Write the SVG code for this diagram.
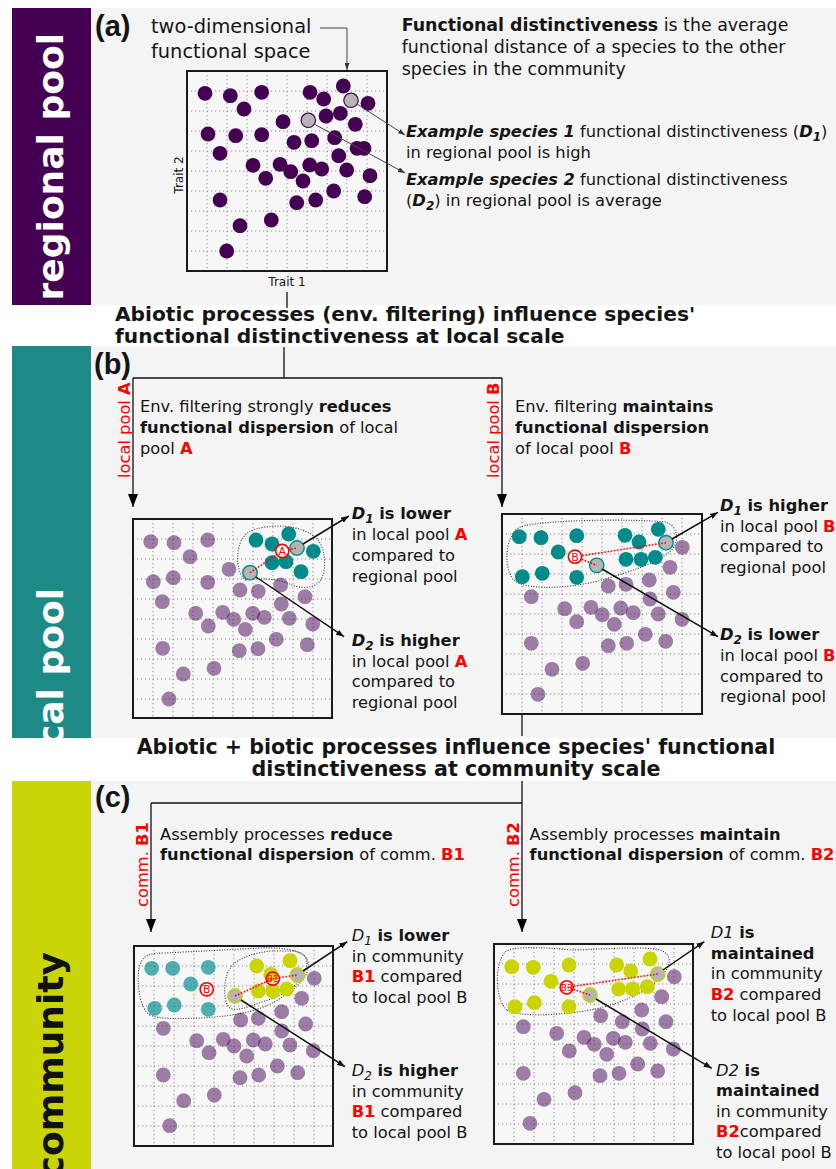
<svg xmlns="http://www.w3.org/2000/svg" width="836" height="1169" viewBox="0 0 836 1169">
<style>
text{font-family:"DejaVu Sans",sans-serif;fill:#151515}
.t16{font-size:16.3px}
.b{font-weight:bold}
.bi{font-weight:bold;font-style:italic}
.i{font-style:italic}
.r{fill:#f00}
.lbl{font-family:"Liberation Sans",Arial,sans-serif;font-weight:bold;font-size:29px}
.side{font-weight:bold;font-size:36px}
.title{font-weight:bold;font-size:20.2px}
.panel{fill:#f4f4f4}
.plotbg{fill:#f7f7f7}
.box{fill:none;stroke:#1a1a1a;stroke-width:2}
.grid{fill:none;stroke:#8a8a8a;stroke-width:1;stroke-dasharray:1.2 2.8}
.pa{fill:#440154}
.pt{fill:#440154;fill-opacity:.5}
.tl{fill:#008b8b}
.tlt{fill:#008b8b;fill-opacity:.68}
.yl{fill:#c9d400}
.spa{fill:#b5b5b5;stroke:#440154;stroke-width:1.2}
.spt{fill:#b5b5b5;stroke:#008b8b;stroke-width:1.4}
.spy{fill:#b5b5b5;stroke:#c9d400;stroke-width:1.4}
.hull{fill:none;stroke:#333;stroke-width:1.1;stroke-dasharray:1 1.6}
.rd{fill:none;stroke:#f00;stroke-width:1.6;stroke-dasharray:1.6 1.6}
.rc{stroke:#f00;stroke-width:1.6}
.rl{font-size:11px;fill:#f00;text-anchor:middle}
.con{fill:none;stroke:#111;stroke-width:1.3}
.sarr{fill:none;stroke:#111;stroke-width:1.5;marker-end:url(#as)}
.garr{fill:none;stroke:#444;stroke-width:1;marker-end:url(#ag)}
</style>
<defs>
<marker id="ah" viewBox="0 0 13 10" refX="13" refY="5" markerWidth="13" markerHeight="10" markerUnits="userSpaceOnUse" orient="auto"><path d="M0,0 L13,5 L0,10 z" fill="#000"/></marker>
<marker id="as" viewBox="0 0 8 6" refX="8" refY="3" markerWidth="8" markerHeight="6" markerUnits="userSpaceOnUse" orient="auto"><path d="M0,0 L8,3 L0,6 z" fill="#111"/></marker>
<marker id="ag" viewBox="0 0 7 5" refX="7" refY="2.5" markerWidth="7" markerHeight="5" markerUnits="userSpaceOnUse" orient="auto"><path d="M0,0 L7,2.5 L0,5 z" fill="#333"/></marker>
<g id="grid"><path class="grid" d="M20,0V200M40,0V200M60,0V200M80,0V200M100,0V200M120,0V200M140,0V200M160,0V200M180,0V200M0,20H200M0,40H200M0,60H200M0,80H200M0,100H200M0,120H200M0,140H200M0,160H200M0,180H200"/></g>
</defs>
<rect width="836" height="1169" fill="#fff"/>

<g id="panels">
<rect class="panel" x="91" y="8" width="745" height="297"/>
<rect class="panel" x="91" y="346" width="745" height="392"/>
<rect class="panel" x="91" y="781" width="745" height="388"/>
</g>

<g id="sidebar-regional"><rect x="12" y="8" width="79" height="297" fill="#440154"/>
<text class="side" transform="translate(63,33) rotate(-90)" text-anchor="end" style="fill:#fff">regional pool</text></g>
<g id="sidebar-local"><rect x="12" y="346" width="79" height="392" fill="#1e8a85"/>
<text class="side" transform="translate(63,588) rotate(-90)" text-anchor="end" style="fill:#fff">local pool</text></g>
<g id="sidebar-community"><rect x="12" y="781" width="79" height="388" fill="#cad507"/>
<text class="side" transform="translate(63,952) rotate(-90)" text-anchor="end" style="fill:#111">community</text></g>

<g id="labels">
<text class="lbl" x="95" y="36">(a)</text>
<text class="lbl" x="94" y="374">(b)</text>
<text class="lbl" x="95" y="807">(c)</text>
</g>

<g id="connectors">
<path class="garr" d="M320,28 H347 V70"/>
<path class="con" d="M287,292 V308"/>
<path class="con" d="M284,347 V378 M133,378 H502"/>
<path class="con" d="M133,378 V507" marker-end="url(#ah)"/>
<path class="con" d="M502,378 V507" marker-end="url(#ah)"/>
<path class="con" d="M522,714 V736"/>
<path class="con" d="M522,781 V803 M151,803 H522"/>
<path class="con" d="M151,803 V932" marker-end="url(#ah)"/>
<path class="con" d="M522,803 V932" marker-end="url(#ah)"/>
</g>

<g id="a-note">
<text x="151" y="33" style="font-size:19.4px">two-dimensional</text>
<text x="151" y="58" style="font-size:19.4px">functional space</text>
</g>

<g id="a-definition" style="font-size:17.4px">
<text x="401.7" y="30.7"><tspan class="b">Functional distinctiveness</tspan> is the average</text>
<text x="401.7" y="53">functional distance of a species to the other</text>
<text x="401.7" y="75">species in the community</text>
</g>

<g id="plot-a">
<rect class="plotbg" x="187" y="71" width="200" height="200"/>
<use href="#grid" x="187" y="71"/>
<g class="pa">
<circle cx="205" cy="93.3" r="7.4"/><circle cx="230.3" cy="95.7" r="7.4"/><circle cx="261.7" cy="92.3" r="7.4"/><circle cx="310" cy="92.3" r="7.4"/><circle cx="343.3" cy="86" r="7.4"/><circle cx="323.7" cy="99" r="7.4"/><circle cx="368" cy="103.3" r="7.4"/><circle cx="244" cy="109" r="7.4"/><circle cx="283" cy="121.7" r="7.4"/><circle cx="326" cy="116" r="7.4"/><circle cx="340.3" cy="113.3" r="7.4"/><circle cx="355.3" cy="124.3" r="7.4"/><circle cx="208" cy="134" r="7.4"/><circle cx="235.7" cy="135.7" r="7.4"/><circle cx="261.7" cy="134.7" r="7.4"/><circle cx="294" cy="142.3" r="7.4"/><circle cx="311.7" cy="140.7" r="7.4"/><circle cx="334.7" cy="137.7" r="7.4"/><circle cx="220" cy="153.3" r="7.4"/><circle cx="357" cy="148.3" r="7.4"/><circle cx="364" cy="148.3" r="7.4"/><circle cx="338.7" cy="155.7" r="7.4"/><circle cx="253" cy="165.3" r="7.4"/><circle cx="280" cy="164.3" r="7.4"/><circle cx="290.7" cy="171.7" r="7.4"/><circle cx="309.7" cy="165" r="7.4"/><circle cx="321.7" cy="169" r="7.4"/><circle cx="346.7" cy="170" r="7.4"/><circle cx="265.7" cy="178.3" r="7.4"/><circle cx="303" cy="181" r="7.4"/><circle cx="370" cy="175.7" r="7.4"/><circle cx="220" cy="200" r="7.4"/><circle cx="333.7" cy="191" r="7.4"/><circle cx="296.7" cy="202.7" r="7.4"/><circle cx="315.7" cy="200" r="7.4"/><circle cx="364.7" cy="196.7" r="7.4"/><circle cx="271.3" cy="220" r="7.4"/><circle cx="240" cy="225.7" r="7.4"/><circle cx="226.7" cy="251" r="7.4"/>
</g>
<circle class="spa" cx="351" cy="100.3" r="7.2"/>
<circle class="spa" cx="308.3" cy="120.3" r="7.2"/>
<rect class="box" x="187" y="71" width="200" height="200"/>
<text x="287" y="286" text-anchor="middle" style="font-size:12px">Trait 1</text>
<text transform="translate(183,175) rotate(-90)" text-anchor="middle" style="font-size:12px">Trait 2</text>
<path class="garr" d="M357,104 L405,135"/>
<path class="garr" d="M314,124 L405,173"/>
</g>

<g id="a-examples" class="t16">
<text x="406" y="137"><tspan class="bi">Example species 1</tspan> functional distinctiveness (<tspan class="bi">D</tspan><tspan class="bi" font-size="12" dy="4">1</tspan><tspan dy="-4">)</tspan></text>
<text x="406" y="158">in regional pool is high</text>
<text x="406" y="185"><tspan class="bi">Example species 2</tspan> functional distinctiveness</text>
<text x="406" y="206">(<tspan class="bi">D</tspan><tspan class="bi" font-size="12" dy="4">2</tspan><tspan dy="-4">) in regional pool is average</tspan></text>
</g>

<g id="title-b" class="title">
<text x="115" y="321">Abiotic processes (env. filtering) influence species'</text>
<text x="115" y="343">functional distinctiveness at local scale</text>
</g>

<g id="b-left-intro" class="t16">
<text transform="translate(130,478) rotate(-90)" class="r">local pool <tspan class="b">A</tspan></text>
<text x="140" y="411.5">Env. filtering strongly <tspan class="b">reduces</tspan></text>
<text x="140" y="432.5"><tspan class="b">functional dispersion</tspan> of local</text>
<text x="140" y="453.5">pool <tspan class="b r">A</tspan></text>
</g>

<g id="b-right-intro" class="t16">
<text transform="translate(499,478) rotate(-90)" class="r">local pool <tspan class="b">B</tspan></text>
<text x="515" y="411.5">Env. filtering <tspan class="b">maintains</tspan></text>
<text x="515" y="432.5" class="b">functional dispersion</text>
<text x="515" y="453.5">of local pool <tspan class="b r">B</tspan></text>
</g>

<g id="plot-b-left">
<rect class="plotbg" x="133" y="519" width="199" height="199"/>
<use href="#grid" x="133" y="519"/>
<g class="pt">
<circle cx="150.7" cy="541.7" r="7.4"/><circle cx="174" cy="542.7" r="7.4"/><circle cx="207.7" cy="540" r="7.4"/><circle cx="190" cy="556.7" r="7.4"/><circle cx="229" cy="569.3" r="7.4"/><circle cx="153.3" cy="581.7" r="7.4"/><circle cx="173.3" cy="577.7" r="7.4"/><circle cx="207.7" cy="582.3" r="7.4"/><circle cx="240" cy="590" r="7.4"/><circle cx="258.3" cy="591.3" r="7.4"/><circle cx="280.7" cy="585" r="7.4"/><circle cx="162.3" cy="601.7" r="7.4"/><circle cx="305" cy="596.7" r="7.4"/><circle cx="195.7" cy="613.3" r="7.4"/><circle cx="222.7" cy="612.3" r="7.4"/><circle cx="233.7" cy="619.3" r="7.4"/><circle cx="252.7" cy="613.3" r="7.4"/><circle cx="264.3" cy="617.3" r="7.4"/><circle cx="281.3" cy="604" r="7.4"/><circle cx="289.3" cy="618.3" r="7.4"/><circle cx="312.7" cy="624" r="7.4"/><circle cx="208.3" cy="626" r="7.4"/><circle cx="245.3" cy="629.3" r="7.4"/><circle cx="162.7" cy="648.3" r="7.4"/><circle cx="239.3" cy="650.7" r="7.4"/><circle cx="258" cy="648.7" r="7.4"/><circle cx="276.3" cy="639.3" r="7.4"/><circle cx="307.3" cy="644.7" r="7.4"/><circle cx="183.3" cy="674" r="7.4"/><circle cx="214" cy="668.3" r="7.4"/><circle cx="169" cy="699" r="7.4"/>
</g>
<path class="hull" d="M246,580 C236,575 235,548 243,538 C248,530 258,527 277,526 C295,526 312,532 318,540 C326,550 327,572 320,581 C314,589 300,589 290,584 C280,580 262,577 246,580 Z"/>
<g class="tl">
<circle cx="256" cy="540" r="7.4"/><circle cx="272" cy="544" r="7.4"/><circle cx="288.7" cy="534" r="7.4"/><circle cx="313.3" cy="551.3" r="7.4"/><circle cx="272" cy="562.7" r="7.4"/><circle cx="286" cy="561.7" r="7.4"/><circle cx="301" cy="571.7" r="7.4"/>
</g>
<circle class="spt" cx="297" cy="548" r="7.2"/>
<circle class="spt" cx="250" cy="572.7" r="7.2"/>
<path class="rd" d="M250,572.7 L282.3,551 L297,548"/>
<circle class="rc" cx="282.3" cy="551" r="6.6" fill="#fff"/>
<text class="rl" x="282.3" y="555">A</text>
<rect class="box" x="133" y="519" width="199" height="199"/>
<path class="sarr" d="M303,544 L349,516"/>
<path class="sarr" d="M256,577 L344,636.7"/>
</g>

<g id="b-left-text" class="t16">
<text x="351.7" y="519.3" class="b"><tspan class="bi">D</tspan><tspan class="bi" font-size="12" dy="4">1</tspan><tspan dy="-4"> is lower</tspan></text>
<text x="351.7" y="540">in local pool <tspan class="b r">A</tspan></text>
<text x="351.7" y="561">compared to</text>
<text x="351.7" y="581.5">regional pool</text>
<text x="351.7" y="645.7" class="b"><tspan class="bi">D</tspan><tspan class="bi" font-size="12" dy="4">2</tspan><tspan dy="-4"> is higher</tspan></text>
<text x="351.7" y="666.7">in local pool <tspan class="b r">A</tspan></text>
<text x="351.7" y="687.3">compared to</text>
<text x="351.7" y="707.7">regional pool</text>
</g>

<g id="plot-b-right">
<rect class="plotbg" x="502" y="514" width="200" height="200"/>
<use href="#grid" x="502" y="514"/>
<g class="pt">
<circle cx="682.3" cy="547.3" r="7.4"/><circle cx="670" cy="567.3" r="7.4"/><circle cx="649.3" cy="580" r="7.4"/><circle cx="626" cy="584.3" r="7.4"/><circle cx="608.3" cy="586" r="7.4"/><circle cx="673.3" cy="592.3" r="7.4"/><circle cx="531.3" cy="596.7" r="7.4"/><circle cx="564.7" cy="608.7" r="7.4"/><circle cx="591" cy="607.3" r="7.4"/><circle cx="602.3" cy="614.7" r="7.4"/><circle cx="620.7" cy="608" r="7.4"/><circle cx="633.3" cy="612.7" r="7.4"/><circle cx="650" cy="599" r="7.4"/><circle cx="658.3" cy="614" r="7.4"/><circle cx="682" cy="619.3" r="7.4"/><circle cx="576.7" cy="621.7" r="7.4"/><circle cx="614.3" cy="624.3" r="7.4"/><circle cx="531.3" cy="643.3" r="7.4"/><circle cx="608.3" cy="645.7" r="7.4"/><circle cx="626.7" cy="643.3" r="7.4"/><circle cx="645.3" cy="634.3" r="7.4"/><circle cx="665.7" cy="641.3" r="7.4"/><circle cx="552" cy="669.3" r="7.4"/><circle cx="582.7" cy="663.3" r="7.4"/><circle cx="538" cy="694.3" r="7.4"/>
</g>
<path class="hull" d="M515,581 C503,572 504,535 520,527 C545,519 640,519 665,522 C680,526 680,545 668,553 C655,563 630,572 605,579 C580,587 530,592 515,581 Z"/>
<g class="tl">
<circle cx="519.3" cy="536.7" r="7.4"/><circle cx="541" cy="537.7" r="7.4"/><circle cx="576.7" cy="535.7" r="7.4"/><circle cx="558.3" cy="552" r="7.4"/><circle cx="522.3" cy="576.7" r="7.4"/><circle cx="542.3" cy="573.3" r="7.4"/><circle cx="576.7" cy="577.3" r="7.4"/><circle cx="625" cy="535.3" r="7.4"/><circle cx="639" cy="542" r="7.4"/><circle cx="658.3" cy="529.3" r="7.4"/><circle cx="626" cy="559.3" r="7.4"/><circle cx="641" cy="559.3" r="7.4"/><circle cx="655.3" cy="557.3" r="7.4"/>
</g>
<circle class="spt" cx="666" cy="542.7" r="7.2"/>
<circle class="spt" cx="596.7" cy="565.3" r="7.2"/>
<path class="rd" d="M666,542.7 L575,556.7 L596.7,565.3"/>
<circle class="rc" cx="575" cy="556.7" r="6.6" fill="#fff"/>
<text class="rl" x="575" y="560.7">B</text>
<rect class="box" x="502" y="514" width="200" height="200"/>
<path class="sarr" d="M672,539 L718,512.3"/>
<path class="sarr" d="M602,569 L718,636.7"/>
</g>

<g id="b-right-text" class="t16">
<text x="720" y="510.7" class="b"><tspan class="bi">D</tspan><tspan class="bi" font-size="12" dy="4">1</tspan><tspan dy="-4"> is higher</tspan></text>
<text x="720" y="531.7">in local pool <tspan class="b r">B</tspan></text>
<text x="720" y="552.3">compared to</text>
<text x="720" y="573.3">regional pool</text>
<text x="720" y="640" class="b"><tspan class="bi">D</tspan><tspan class="bi" font-size="12" dy="4">2</tspan><tspan dy="-4"> is lower</tspan></text>
<text x="720" y="661">in local pool <tspan class="b r">B</tspan></text>
<text x="720" y="681.5">compared to</text>
<text x="720" y="701.7">regional pool</text>
</g>

<g id="title-c" class="title" text-anchor="middle" style="font-size:20.6px">
<text x="456" y="754">Abiotic + biotic processes influence species' functional</text>
<text x="456" y="776">distinctiveness at community scale</text>
</g>

<g id="c-left-intro" class="t16">
<text transform="translate(148,907) rotate(-90)" class="r">comm. <tspan class="b">B1</tspan></text>
<text x="160" y="840">Assembly processes <tspan class="b">reduce</tspan></text>
<text x="160" y="860"><tspan class="b">functional dispersion</tspan> of comm. <tspan class="b r">B1</tspan></text>
</g>

<g id="c-right-intro" class="t16">
<text transform="translate(519,907) rotate(-90)" class="r">comm. <tspan class="b">B2</tspan></text>
<text x="529.6" y="840">Assembly processes <tspan class="b">maintain</tspan></text>
<text x="529.6" y="860"><tspan class="b">functional dispersion</tspan> of comm. <tspan class="b r">B2</tspan></text>
</g>

<g id="plot-c-left">
<rect class="plotbg" x="134" y="946" width="199" height="200"/>
<use href="#grid" x="134" y="946"/>
<g class="pt">
<circle cx="314.3" cy="978.3" r="7.4"/><circle cx="301.7" cy="998.3" r="7.4"/><circle cx="281.7" cy="1011.7" r="7.4"/><circle cx="258.3" cy="1018.3" r="7.4"/><circle cx="240.7" cy="1020" r="7.4"/><circle cx="305.7" cy="1024" r="7.4"/><circle cx="163.3" cy="1028.3" r="7.4"/><circle cx="196.7" cy="1040.7" r="7.4"/><circle cx="223.3" cy="1039.3" r="7.4"/><circle cx="234" cy="1046" r="7.4"/><circle cx="253.3" cy="1040" r="7.4"/><circle cx="265.3" cy="1044" r="7.4"/><circle cx="281.7" cy="1031" r="7.4"/><circle cx="290" cy="1045" r="7.4"/><circle cx="313.3" cy="1050.7" r="7.4"/><circle cx="209" cy="1052.7" r="7.4"/><circle cx="246.7" cy="1056" r="7.4"/><circle cx="163.3" cy="1075" r="7.4"/><circle cx="240" cy="1077.7" r="7.4"/><circle cx="258.7" cy="1075" r="7.4"/><circle cx="277.3" cy="1066" r="7.4"/><circle cx="297.7" cy="1072.7" r="7.4"/><circle cx="183.7" cy="1100.7" r="7.4"/><circle cx="214.3" cy="1095" r="7.4"/><circle cx="169.7" cy="1125.7" r="7.4"/>
</g>
<path class="hull" d="M150,1015 C138,1008 136,975 140,965 C143,955 150,953 165,953 L260,948 C290,947 306,952 308,962 C310,975 300,985 285,995 C265,1010 240,1016 200,1018 C175,1019 158,1019 150,1015 Z"/>
<path class="hull" d="M230,1008 C222,1002 223,975 232,966 C240,957 255,953 270,951 L293,951 C305,952 310,960 305,970 C300,985 285,995 265,1001 C250,1006 238,1012 230,1008 Z"/>
<g class="tlt">
<circle cx="151.7" cy="968.3" r="7.4"/><circle cx="172.7" cy="968.3" r="7.4"/><circle cx="208.3" cy="967.3" r="7.4"/><circle cx="190.7" cy="984" r="7.4"/><circle cx="154.7" cy="1008.3" r="7.4"/><circle cx="174.3" cy="1005" r="7.4"/><circle cx="208.3" cy="1009.3" r="7.4"/>
</g>
<g class="yl">
<circle cx="256.7" cy="966" r="7.4"/><circle cx="270.7" cy="974.3" r="7.4"/><circle cx="290" cy="960.7" r="7.4"/><circle cx="258.3" cy="991" r="7.4"/><circle cx="272.7" cy="991" r="7.4"/><circle cx="286.7" cy="989" r="7.4"/>
</g>
<circle class="spy" cx="297.3" cy="975" r="7.2"/>
<circle class="spy" cx="235" cy="996" r="7.2"/>
<path class="rd" d="M235,996 L272.7,978.7 L297.3,975"/>
<circle class="rc" cx="206.7" cy="989.3" r="6.6" fill="none"/>
<text class="rl" x="206.7" y="993.3">B</text>
<circle class="rc" cx="272.7" cy="978.7" r="6.6" fill="none"/>
<text class="rl" x="272.7" y="982.3" style="font-size:9px">B1</text>
<rect class="box" x="134" y="946" width="199" height="200"/>
<path class="sarr" d="M303,971 L347.3,941.7"/>
<path class="sarr" d="M241,1000 L345,1066.7"/>
</g>

<g id="c-left-text" class="t16">
<text x="351.7" y="941"><tspan class="i">D</tspan><tspan class="i" font-size="12" dy="4">1</tspan><tspan class="b" dy="-4"> is lower</tspan></text>
<text x="351.7" y="961.7">in community</text>
<text x="351.7" y="982.3"><tspan class="b r">B1</tspan> compared</text>
<text x="351.7" y="1003.3">to local pool B</text>
<text x="351.7" y="1076"><tspan class="i">D</tspan><tspan class="i" font-size="12" dy="4">2</tspan><tspan class="b" dy="-4"> is higher</tspan></text>
<text x="351.7" y="1096.7">in community</text>
<text x="351.7" y="1117.3"><tspan class="b r">B1</tspan> compared</text>
<text x="351.7" y="1137.7">to local pool B</text>
</g>

<g id="plot-c-right">
<rect class="plotbg" x="494" y="944" width="199" height="200"/>
<use href="#grid" x="494" y="944"/>
<g class="pt">
<circle cx="674.3" cy="976.7" r="7.4"/><circle cx="661.7" cy="996.7" r="7.4"/><circle cx="641.7" cy="1010" r="7.4"/><circle cx="622.3" cy="1021.7" r="7.4"/><circle cx="600.7" cy="1015.7" r="7.4"/><circle cx="666" cy="1021.7" r="7.4"/><circle cx="523.3" cy="1026.7" r="7.4"/><circle cx="556.7" cy="1033.3" r="7.4"/><circle cx="584" cy="1037.3" r="7.4"/><circle cx="594.3" cy="1044.3" r="7.4"/><circle cx="613.3" cy="1038.3" r="7.4"/><circle cx="625.3" cy="1042.3" r="7.4"/><circle cx="642.3" cy="1029" r="7.4"/><circle cx="650.3" cy="1043.3" r="7.4"/><circle cx="673.3" cy="1049" r="7.4"/><circle cx="569.3" cy="1051" r="7.4"/><circle cx="606.7" cy="1054.3" r="7.4"/><circle cx="523.3" cy="1073.3" r="7.4"/><circle cx="600" cy="1075.7" r="7.4"/><circle cx="619" cy="1073.3" r="7.4"/><circle cx="637.7" cy="1064" r="7.4"/><circle cx="657.7" cy="1071" r="7.4"/><circle cx="544" cy="1099.3" r="7.4"/><circle cx="575" cy="1092.7" r="7.4"/><circle cx="530" cy="1123.3" r="7.4"/>
</g>
<path class="hull" d="M507,1010 C495,1000 494,965 505,952 C512,946 540,947 573,950 C610,949 640,946 660,950 C672,954 672,965 662,975 C650,990 630,1000 600,1008 C570,1015 520,1018 507,1010 Z"/>
<g class="yl">
<circle cx="511.7" cy="966.7" r="7.4"/><circle cx="533.3" cy="967.3" r="7.4"/><circle cx="569" cy="965" r="7.4"/><circle cx="551" cy="981.3" r="7.4"/><circle cx="515" cy="1006.7" r="7.4"/><circle cx="534.3" cy="1002.7" r="7.4"/><circle cx="569" cy="1006.7" r="7.4"/><circle cx="616.7" cy="965" r="7.4"/><circle cx="630.7" cy="971" r="7.4"/><circle cx="650" cy="959" r="7.4"/><circle cx="618.7" cy="989" r="7.4"/><circle cx="632.7" cy="989" r="7.4"/><circle cx="647.3" cy="986.7" r="7.4"/>
</g>
<circle class="spy" cx="657.7" cy="974" r="7.2"/>
<circle class="spy" cx="590" cy="995" r="7.2"/>
<path class="rd" d="M657.7,974 L566.7,987.3 L590,995"/>
<circle class="rc" cx="566.7" cy="987.3" r="6.6" fill="none"/>
<text class="rl" x="566.7" y="990.8" style="font-size:9px">B3</text>
<rect class="box" x="494" y="944" width="199" height="200"/>
<path class="sarr" d="M663,970 L704.3,941.7"/>
<path class="sarr" d="M596,999 L711.7,1068.3"/>
</g>

<g id="c-right-text" class="t16">
<text x="710.7" y="938.3"><tspan class="i">D1</tspan><tspan class="b"> is</tspan></text>
<text x="710.7" y="959" class="b">maintained</text>
<text x="710.7" y="979.3">in community</text>
<text x="710.7" y="1000"><tspan class="b r">B2</tspan> compared</text>
<text x="710.7" y="1020.7">to local pool B</text>
<text x="716" y="1075.7"><tspan class="i">D2</tspan><tspan class="b"> is</tspan></text>
<text x="716" y="1096" class="b">maintained</text>
<text x="716" y="1116.7">in community</text>
<text x="716" y="1137.3"><tspan class="b r">B2</tspan>compared</text>
<text x="716" y="1158.3">to local pool B</text>
</g>
</svg>
